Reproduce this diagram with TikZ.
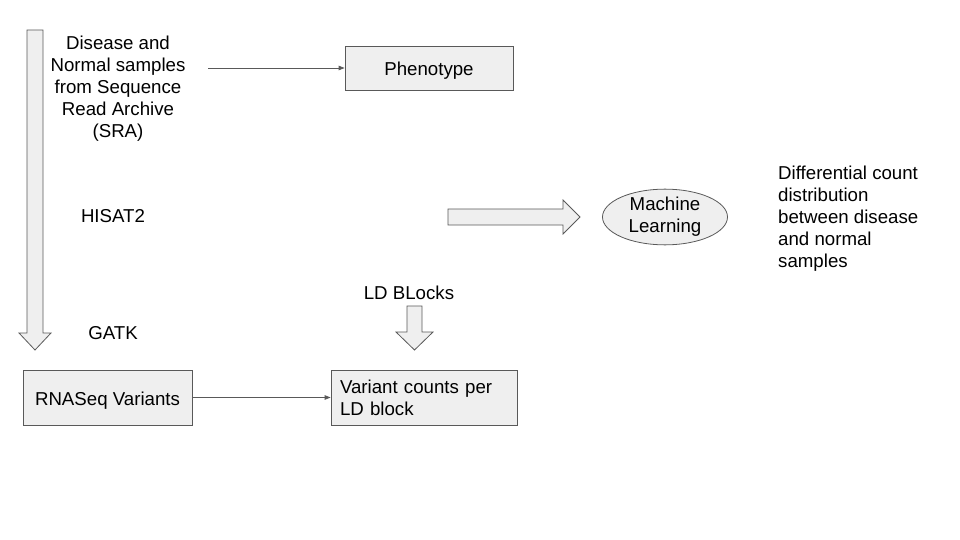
\documentclass[tikz,border=0pt]{standalone}
\usepackage{fontspec}
\setmainfont{Liberation Sans}
\usetikzlibrary{arrows.meta,shapes.geometric}
\definecolor{boxfill}{HTML}{EFEFEF}
\definecolor{edge}{HTML}{595959}
\tikzset{
  stepbox/.style={draw=edge,fill=boxfill,line width=.8pt,inner sep=0pt},
  oneline/.style={text height=19.5pt,text depth=3.9pt},
  fat/.style={draw=edge,fill=boxfill,line width=.8pt,line join=miter},
  link/.style={draw=edge,line width=.8pt,-{Triangle[length=6pt,width=4.5pt]}},
}
\begin{document}
\begin{tikzpicture}[x=1pt,y=-1pt,font=\fontsize{18.67}{22}\selectfont]
\useasboundingbox (0,0) rectangle (960,540);
% block arrows
\draw[fat] (27,30)--(43,30)--(43,333)--(51,333)--(35,350)--(19,333)--(27,333)--cycle;
\draw[fat] (448,209)--(563,209)--(563,200)--(580,217)--(563,234)--(563,225)--(448,225)--cycle;
\draw[fat] (407,306)--(422,306)--(422,332)--(433,332)--(414.5,350)--(396,332)--(407,332)--cycle;
% texts
\node[align=center,inner sep=0pt] (src) at (118,89) {Disease and\\Normal samples\\from Sequence\\Read Archive\\(SRA)};
\node[inner sep=0pt] (hisat) at (113,216) {HISAT2};
\node[inner sep=0pt] (gatk) at (113,333) {GATK};
\node[inner sep=0pt] (ldblocks) at (409,293) {LD BLocks};
\node[align=left,anchor=west,inner sep=0pt] (diff) at (778,219) {Differential count\\distribution\\between disease\\and normal\\samples};
% boxes
\node[stepbox,oneline,minimum width=168pt,minimum height=44pt] (pheno) at (429,68) {Phenotype};
\node[stepbox,oneline,minimum width=169pt,minimum height=55pt] (rna) at (107.5,397.5) {RNASeq Variants};
\node[stepbox,minimum width=186pt,minimum height=55pt,text width=168pt,align=left] (ldcount) at (424,397.5) {Variant counts per\\LD block};
\node[stepbox,ellipse,minimum width=125pt,minimum height=46pt,align=center] (ml) at (665,217) {Machine\\Learning};
% connectors
\coordinate (srcout) at (208,68);
\draw[link] (srcout) -- (pheno);
\draw[link] (rna) -- (ldcount);
\end{tikzpicture}
\end{document}
